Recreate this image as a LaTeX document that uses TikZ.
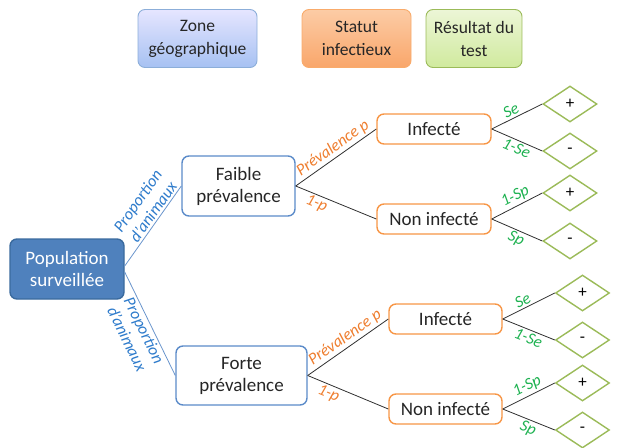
\documentclass[tikz,border=0pt]{standalone}
\usepackage{fontspec}
\setmainfont{Carlito}
\usetikzlibrary{shapes.geometric}
\definecolor{popfill}{HTML}{4F81BD}
\definecolor{popdraw}{HTML}{3A6A9E}
\definecolor{nodeblue}{HTML}{5B8BC9}
\definecolor{nodeorange}{HTML}{F79646}
\definecolor{nodegreen}{HTML}{9BBB59}
\definecolor{labblue}{HTML}{2E7BCB}
\definecolor{laborange}{HTML}{EE7D2E}
\definecolor{labgreen}{HTML}{1DB150}
\definecolor{lineblue}{HTML}{6A95CC}
\definecolor{linegray}{HTML}{303030}
\begin{document}
\begin{tikzpicture}[x=1pt,y=-1pt,
  hdr/.style={rounded corners=7pt, align=center, line width=0.9pt, minimum height=58pt, inner sep=0pt,
    font=\fontsize{17.5}{23}\selectfont, text=black!85},
  box/.style={rounded corners=7pt, align=center, line width=1.4pt, fill=white, inner sep=0pt,
    font=\fontsize{19}{22}\selectfont, text=black!85},
  dia/.style={diamond, draw=nodegreen, line width=1.4pt, fill=white, minimum width=54pt, minimum height=36pt,
    inner sep=0pt, font=\fontsize{17}{18}\selectfont},
  bl/.style={draw=lineblue, line width=0.8pt},
  gl/.style={draw=linegray, line width=0.8pt},
  lab/.style={sloped, inner sep=2pt, font=\fontsize{16.5}{19}\selectfont\itshape},
  labb/.style={lab, text=labblue, align=center},
  labo/.style={lab, text=laborange},
  labg/.style={lab, text=labgreen}]
\useasboundingbox (0,0) rectangle (623,447);

% headers
\node[hdr, draw=nodeblue!70, top color=blue!10!white, bottom color={rgb,255:red,166;green,193;blue,242}, minimum width=119pt]
  (hzone) at (197.5,38.5) {Zone\\géographique};
\node[hdr, draw=nodeorange!80, top color={rgb,255:red,252;green,204;blue,166}, bottom color={rgb,255:red,249;green,166;blue,106}, minimum width=109pt]
  (hstat) at (356.5,38.5) {Statut\\infectieux};
\node[hdr, draw=nodegreen, top color={rgb,255:red,236;green,246;blue,214}, bottom color={rgb,255:red,208;green,234;blue,158}, minimum width=96pt]
  (hres) at (474,38.5) {Résultat du\\test};

% main nodes
\node[box, fill=popfill, draw=popdraw, text=white, minimum width=114pt, minimum height=60pt] (pop) at (67,269) {Population\\surveillée};
\node[box, draw=nodeblue, minimum width=113pt, minimum height=60pt] (faible) at (238.5,186) {Faible\\prévalence};
\node[box, draw=nodeblue, minimum width=131pt, minimum height=59pt] (forte) at (241.5,375.5) {Forte\\prévalence};

\node[box, draw=nodeorange, minimum width=114pt, minimum height=30pt] (inf1) at (434,129) {Infecté};
\node[box, draw=nodeorange, minimum width=114pt, minimum height=30pt] (non1) at (434,219) {Non infecté};
\node[box, draw=nodeorange, minimum width=113pt, minimum height=30pt] (inf2) at (445.5,319) {Infecté};
\node[box, draw=nodeorange, minimum width=113pt, minimum height=30pt] (non2) at (445.5,409) {Non infecté};

\node[dia] (d1) at (570,104) {+};
\node[dia] (d2) at (570,151) {-};
\node[dia] (d3) at (570,193) {+};
\node[dia] (d4) at (570,241) {-};
\node[dia] (d5) at (582.5,293) {+};
\node[dia] (d6) at (582.5,340) {-};
\node[dia] (d7) at (582.5,383) {+};
\node[dia] (d8) at (582.5,430) {-};

% connectors
\draw[bl] ([yshift=3pt]pop.east) -- node[labb, above, pos=0.62]{Proportion\\d'animaux} (faible.west);
\draw[bl] ([yshift=-3pt]pop.east) -- node[labb, below, pos=0.53]{Proportion\\d'animaux} (forte.west);

\draw[gl] (faible.east) -- node[labo, above, pos=0.53]{Prévalence p} (inf1.west);
\draw[gl] (faible.east) -- node[labo, below, pos=0.3]{1-p} (non1.west);
\draw[gl] (forte.east) -- node[labo, above, pos=0.53]{Prévalence p} (inf2.west);
\draw[gl] (forte.east) -- node[labo, below, pos=0.3]{1-p} (non2.west);

\draw[gl] (inf1.east) -- node[labg, above, pos=0.45]{Se} (d1.west);
\draw[gl] (inf1.east) -- node[labg, below, pos=0.55]{1-Se} (d2.west);
\draw[gl] (non1.east) -- node[labg, above, pos=0.55]{1-Sp} (d3.west);
\draw[gl] (non1.east) -- node[labg, below, pos=0.55]{Sp} (d4.west);
\draw[gl] (inf2.east) -- node[labg, above, pos=0.45]{Se} (d5.west);
\draw[gl] (inf2.east) -- node[labg, below, pos=0.55]{1-Se} (d6.west);
\draw[gl] (non2.east) -- node[labg, above, pos=0.55]{1-Sp} (d7.west);
\draw[gl] (non2.east) -- node[labg, below, pos=0.55]{Sp} (d8.west);
\end{tikzpicture}
\end{document}
